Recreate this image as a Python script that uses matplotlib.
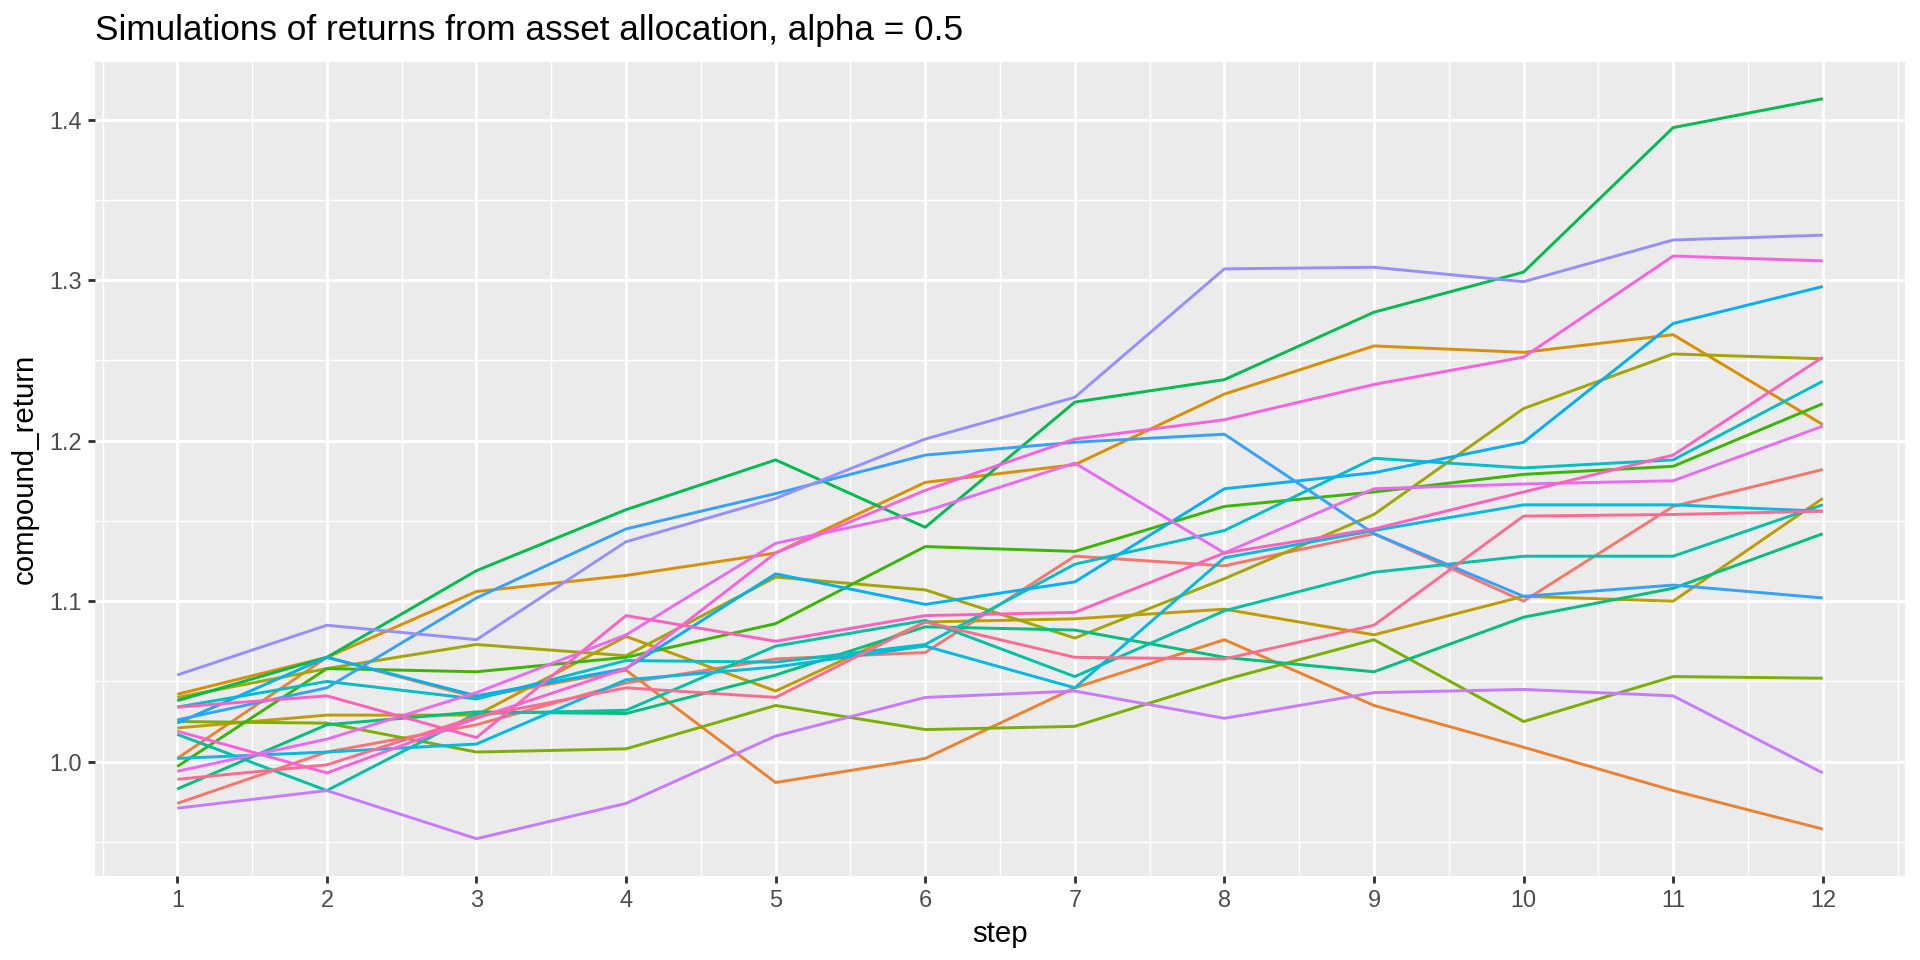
import numpy as np
import matplotlib.pyplot as plt
from matplotlib.ticker import MultipleLocator

plt.rcParams['font.family'] = ['Liberation Sans', 'DejaVu Sans']

steps = list(range(1, 13))

# ggplot hue_pal()(20)
sim_colors = ["#F8766D", "#EA8331", "#D89000", "#C09B00", "#A3A500",
              "#7CAE00", "#39B600", "#00BB4E", "#00BF7D", "#00C1A3",
              "#00BFC4", "#00BAE0", "#00B0F6", "#35A2FF", "#9590FF",
              "#C77CFF", "#E76BF3", "#FA62DB", "#FF62BC", "#FF6C91"]

sim01 = [0.974, 1.006, 1.023, 1.049, 1.064, 1.068, 1.128, 1.122, 1.142, 1.100, 1.159, 1.182]
sim02 = [1.002, 1.065, 1.040, 1.057, 0.987, 1.002, 1.046, 1.076, 1.035, 1.009, 0.982, 0.958]
sim03 = [1.042, 1.065, 1.106, 1.116, 1.130, 1.174, 1.185, 1.229, 1.259, 1.255, 1.266, 1.210]
sim04 = [1.021, 1.029, 1.029, 1.078, 1.044, 1.087, 1.089, 1.095, 1.079, 1.103, 1.100, 1.164]
sim05 = [1.040, 1.058, 1.073, 1.066, 1.115, 1.107, 1.077, 1.114, 1.154, 1.220, 1.254, 1.251]
sim06 = [1.025, 1.024, 1.006, 1.008, 1.035, 1.020, 1.022, 1.051, 1.076, 1.025, 1.053, 1.052]
sim07 = [0.997, 1.058, 1.056, 1.065, 1.086, 1.134, 1.131, 1.159, 1.168, 1.179, 1.184, 1.223]
sim08 = [1.038, 1.065, 1.119, 1.157, 1.188, 1.146, 1.224, 1.238, 1.280, 1.305, 1.395, 1.413]
sim09 = [0.983, 1.023, 1.031, 1.030, 1.054, 1.084, 1.082, 1.065, 1.056, 1.090, 1.108, 1.142]
sim10 = [1.017, 0.982, 1.030, 1.032, 1.072, 1.088, 1.053, 1.094, 1.118, 1.128, 1.128, 1.160]
sim11 = [1.034, 1.050, 1.039, 1.063, 1.062, 1.073, 1.123, 1.144, 1.189, 1.183, 1.188, 1.237]
sim12 = [1.002, 1.006, 1.011, 1.051, 1.059, 1.072, 1.046, 1.127, 1.144, 1.160, 1.160, 1.156]
sim13 = [1.024, 1.065, 1.041, 1.058, 1.117, 1.098, 1.112, 1.170, 1.180, 1.199, 1.273, 1.296]
sim14 = [1.026, 1.046, 1.102, 1.145, 1.167, 1.191, 1.199, 1.204, 1.142, 1.103, 1.110, 1.102]
sim15 = [1.054, 1.085, 1.076, 1.137, 1.164, 1.201, 1.227, 1.307, 1.308, 1.299, 1.325, 1.328]
sim16 = [0.971, 0.982, 0.952, 0.974, 1.016, 1.040, 1.044, 1.027, 1.043, 1.045, 1.041, 0.993]
sim17 = [0.994, 1.014, 1.043, 1.079, 1.136, 1.156, 1.186, 1.130, 1.170, 1.173, 1.175, 1.209]
sim18 = [1.019, 0.993, 1.027, 1.058, 1.130, 1.169, 1.201, 1.213, 1.235, 1.252, 1.315, 1.312]
sim19 = [1.034, 1.041, 1.015, 1.091, 1.075, 1.091, 1.093, 1.130, 1.145, 1.168, 1.191, 1.252]
sim20 = [0.989, 0.998, 1.028, 1.046, 1.040, 1.087, 1.065, 1.064, 1.085, 1.153, 1.154, 1.156]

sims = [sim01, sim02, sim03, sim04, sim05, sim06, sim07, sim08, sim09, sim10,
        sim11, sim12, sim13, sim14, sim15, sim16, sim17, sim18, sim19, sim20]

fig = plt.figure(figsize=(10, 5), dpi=192)
ax = fig.add_axes([0.0495, 0.0878, 0.9427, 0.8479])
ax.set_facecolor('#EBEBEB')

for vals, col in zip(sims, sim_colors):
    ax.plot(steps, vals, color=col, linewidth=1.1, solid_capstyle='butt', zorder=3)

# ggplot-style limits with 5% expansion
allv = np.concatenate(sims)
lo, hi = allv.min(), allv.max()
pad = (hi - lo) * 0.05
ax.set_ylim(lo - pad, hi + pad)
ax.set_xlim(1 - 11 * 0.05, 12 + 11 * 0.05)

ax.set_xticks(steps)
ax.set_yticks([1.0, 1.1, 1.2, 1.3, 1.4])
ax.set_yticklabels(['1.0', '1.1', '1.2', '1.3', '1.4'])
ax.xaxis.set_minor_locator(MultipleLocator(0.5))
ax.yaxis.set_minor_locator(MultipleLocator(0.05))

ax.grid(which='major', color='white', linewidth=1.07, zorder=1)
ax.grid(which='minor', color='white', linewidth=0.53, zorder=1)
ax.set_axisbelow(True)
for s in ax.spines.values():
    s.set_visible(False)

ax.tick_params(axis='both', which='major', length=2.75, width=1.07, color='#333333',
               labelcolor='#4D4D4D', labelsize=8.8, pad=2.2)
ax.tick_params(axis='both', which='minor', length=0)

ax.set_xlabel('step', fontsize=11, color='black', labelpad=3)
ax.set_ylabel('compound_return', fontsize=11, color='black', labelpad=4)
ax.set_title('Simulations of returns from asset allocation, alpha = 0.5',
             fontsize=13.2, loc='left', pad=8)

fig.savefig('out.png', dpi=192, facecolor='white')
